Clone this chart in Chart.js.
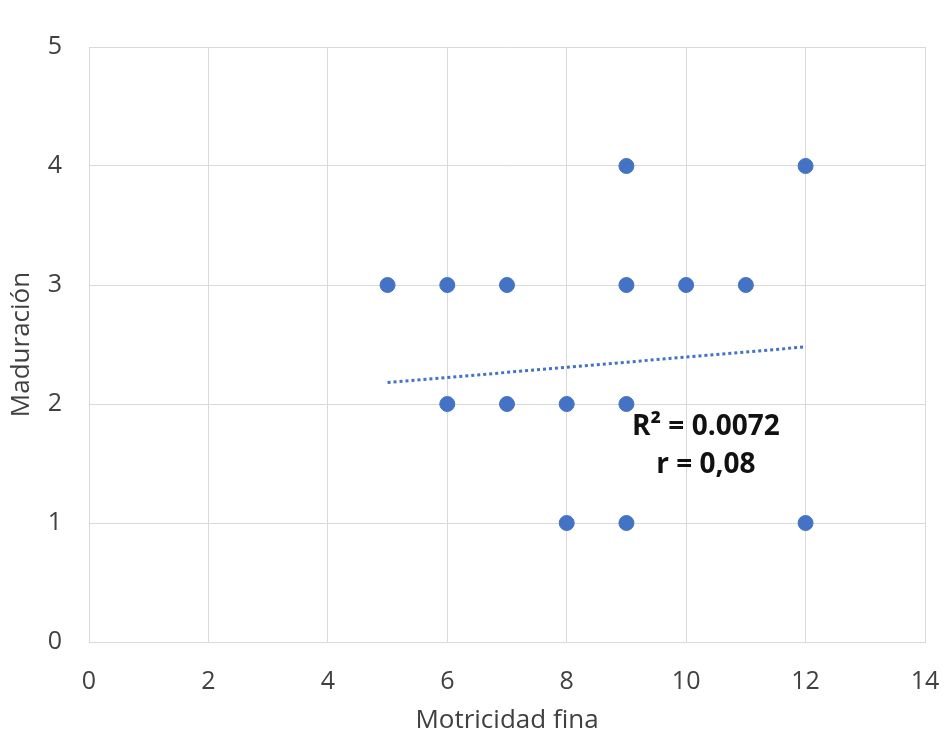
<!DOCTYPE html>
<html>
<head>
<meta charset="utf-8">
<script src="https://cdn.jsdelivr.net/npm/chart.js@4"></script>
<style>
  html, body { margin: 0; padding: 0; background: #fff; }
  #wrap { width: 944px; height: 736px; position: relative; }
</style>
</head>
<body>
<div id="wrap"><canvas id="scatterChart"></canvas></div>
<script>
// Data
const motricidad = [5, 6, 7, 9, 10, 11, 9, 12, 6, 7, 8, 9, 8, 9, 12];
const maduracion = [3, 3, 3, 3, 3, 3, 4, 4, 2, 2, 2, 2, 1, 1, 1];
const trendX = [5, 12];
const trendY = [2.18, 2.48];
const statLines = ['R\u00B2 = 0.0072', 'r = 0,08'];
const statPos = { x: 10.33, y: [1.81, 1.49] };

const blue = '#4472C4';
const gridColor = '#d9d9d9';
const fontFamily = "'Open Sans', 'Noto Sans', sans-serif";

// Writes the R² and r values inside the plot
const statsLabel = {
    id: 'statsLabel',
    afterDatasetsDraw(chart) {
        const ctx = chart.ctx;
        const xs = chart.scales.x;
        const ys = chart.scales.y;
        ctx.save();
        ctx.fillStyle = '#111';
        ctx.font = 'bold 28px ' + fontFamily;
        ctx.textAlign = 'center';
        ctx.textBaseline = 'middle';
        statLines.forEach(function(t, i) {
            ctx.fillText(t, xs.getPixelForValue(statPos.x), ys.getPixelForValue(statPos.y[i]));
        });
        ctx.restore();
    }
};

const ctx = document.getElementById('scatterChart').getContext('2d');
const chart = new Chart(ctx, {
    type: 'scatter',
    data: {
        datasets: [
            {
                label: 'Maduración',
                data: motricidad.map((x, i) => ({ x: x, y: maduracion[i] })),
                backgroundColor: blue,
                borderColor: blue,
                pointRadius: 7.5,
                pointHoverRadius: 7.5
            },
            {
                label: 'Tendencia',
                type: 'line',
                data: trendX.map((x, i) => ({ x: x, y: trendY[i] })),
                borderColor: blue,
                borderWidth: 3,
                borderDash: [3, 3],
                pointRadius: 0,
                fill: false
            }
        ]
    },
    options: {
        responsive: true,
        maintainAspectRatio: false,
        animation: false,
        layout: { padding: { top: 47, right: 19, left: 0, bottom: 0 } },
        plugins: {
            legend: { display: false },
            tooltip: { enabled: false }
        },
        scales: {
            x: {
                type: 'linear',
                min: 0,
                max: 14,
                ticks: { stepSize: 2, padding: 25, color: '#404040', font: { family: fontFamily, size: 25 } },
                grid: { color: gridColor, drawTicks: false },
                border: { color: gridColor },
                title: { display: true, text: 'Motricidad fina', color: '#404040', padding: { top: 0, bottom: 0 }, font: { family: fontFamily, size: 26 } },
                afterFit: function(scale) {
                    scale.height = 94;
                    scale.paddingLeft = 0;
                    scale.paddingRight = 0;
                }
            },
            y: {
                min: 0,
                max: 5,
                ticks: { stepSize: 1, padding: 27, color: '#404040', font: { family: fontFamily, size: 25 } },
                grid: { color: gridColor, drawTicks: false },
                border: { color: gridColor },
                title: { display: true, text: 'Maduración', color: '#404040', padding: { top: 6, bottom: 0 }, font: { family: fontFamily, size: 26 } },
                afterFit: function(scale) {
                    scale.width = 89;
                    scale.paddingTop = 0;
                    scale.paddingBottom = 0;
                }
            }
        }
    },
    plugins: [statsLabel]
});
</script>
</body>
</html>
